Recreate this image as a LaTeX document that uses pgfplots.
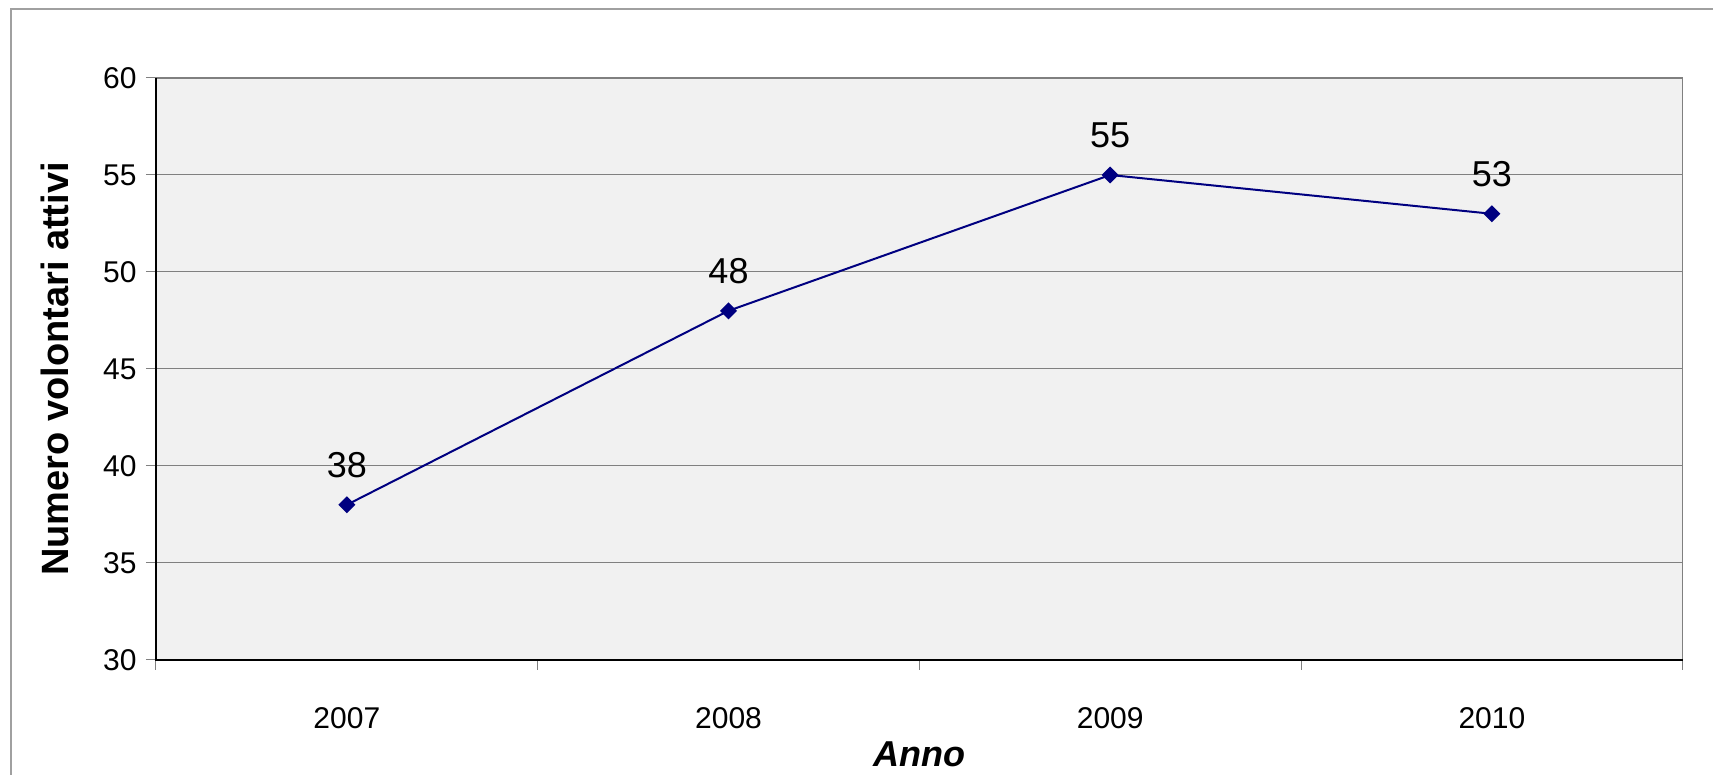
\documentclass[border=0pt]{standalone}
\usepackage{pgfplots}
\pgfplotsset{compat=1.18}
\usepackage{fontspec}
\setmainfont{Liberation Sans}
\definecolor{plotbg}{HTML}{F1F1F1}
\definecolor{gridc}{HTML}{808080}
\definecolor{framec}{HTML}{A0A0A0}
\definecolor{navyline}{HTML}{000080}
\begin{document}
\begin{tikzpicture}
\useasboundingbox (0,0) rectangle (856.5pt,387.5pt);
\fill[white] (0,0) rectangle (856.5pt,387.5pt);
\draw[framec, line width=1pt] (5.5pt,-5pt) -- (5.5pt,383pt) -- (870pt,383pt);
\begin{axis}[
  at={(78pt,57.5pt)}, anchor=south west,
  scale only axis, width=763.35pt, height=291pt,
  xmin=-0.5, xmax=3.5, ymin=30, ymax=60,
  ytick={30,35,...,60},
  xtick={0,1,2,3},
  xticklabels={2007,2008,2009,2010},
  minor xtick={-0.5,0.5,1.5,2.5,3.5},
  xtick pos=bottom, ytick pos=left,
  x tick style={draw=none},
  minor x tick style={draw=gridc, line width=0.5pt},
  y tick style={draw=gridc, line width=0.5pt},
  tick align=outside,
  major tick length=5pt, minor tick length=5pt,
  ymajorgrids, grid style={gridc, line width=0.5pt},
  axis background/.style={fill=plotbg},
  axis line style={gridc, line width=0.75pt},
  tick label style={font=\fontsize{15}{18}\selectfont},
  /pgf/number format/assume math mode=true,
  yticklabel style={anchor=east, inner sep=0pt, xshift=-4.5pt},
  xticklabel style={anchor=north, inner sep=0pt, yshift=-18.5pt},
  every axis y label/.style={at={(rel axis cs:0,0.5)}, xshift=-50.5pt, rotate=90, anchor=center, font=\fontsize{19}{22}\selectfont\bfseries},
  every axis x label/.style={at={(rel axis cs:0.5,0)}, yshift=-47pt, anchor=center, font=\fontsize{18}{21}\selectfont\bfseries\itshape},
  ylabel={Numero volontari attivi},
  xlabel={Anno},
  nodes near coords,
  every node near coord/.append style={font=\fontsize{18}{21}\selectfont, anchor=south, inner sep=0pt, yshift=13pt, text=black},
  clip=false,
]
\addplot[navyline, line width=1pt, mark=square*, mark size=2.5pt, mark options={rotate=45, fill=navyline, draw=navyline}] coordinates {(0,38) (1,48) (2,55) (3,53)};
\draw[black, line width=0.75pt] (rel axis cs:0,1) -- (rel axis cs:0,0) -- (rel axis cs:1,0);
\end{axis}
\end{tikzpicture}
\end{document}
